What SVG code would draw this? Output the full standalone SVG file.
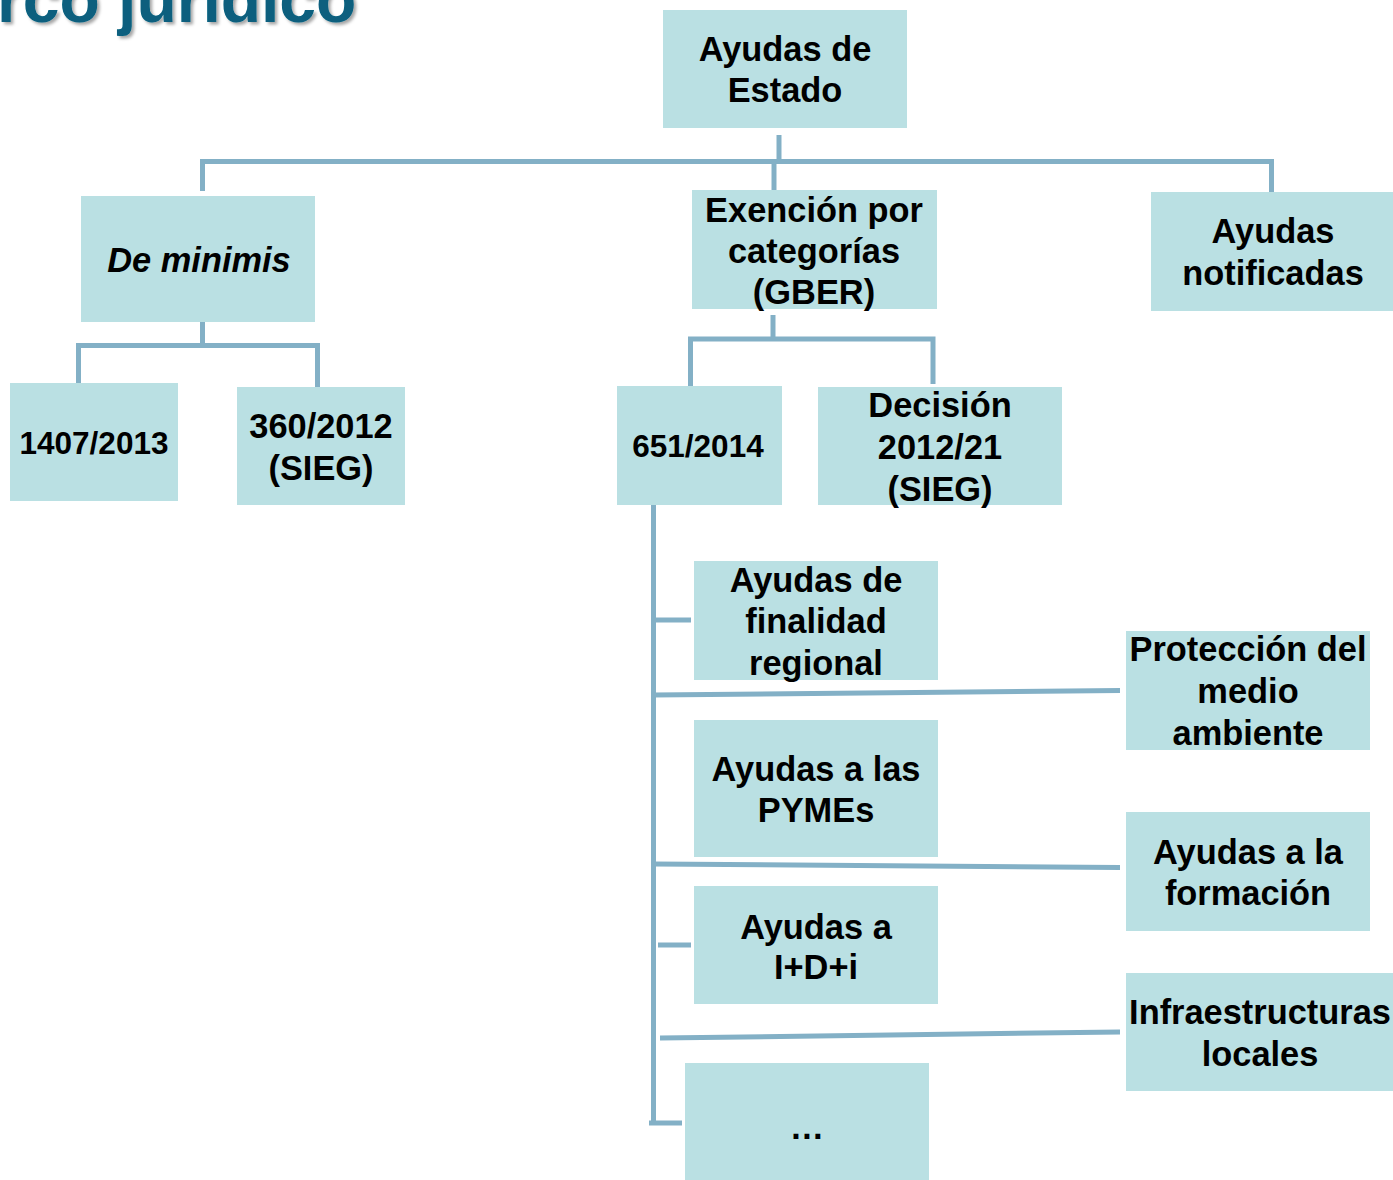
<svg xmlns="http://www.w3.org/2000/svg" width="1393" height="1180" viewBox="0 0 1393 1180">
<defs>
<style>
.box{fill:#BAE0E3}
.t{font-family:"Liberation Sans",Arial,sans-serif;font-weight:bold;font-size:34.4px;fill:#000;text-anchor:middle}
.s{font-size:31.5px}
.c{stroke:#83B0C6;stroke-width:5;fill:none;stroke-linecap:butt;stroke-linejoin:miter}
.title{font-family:"Liberation Sans",Arial,sans-serif;font-weight:bold;font-size:66px;fill:#075F7E}
</style>
<filter id="sh" x="-5%" y="-50%" width="110%" height="200%">
<feDropShadow dx="2.5" dy="2.5" stdDeviation="1.5" flood-color="#000" flood-opacity="0.35"/>
</filter>
</defs>
<rect width="1393" height="1180" fill="#fff"/>
<text class="title" x="-3" y="22" filter="url(#sh)">rco jurídico</text>

<g id="connectors">
<path class="c" d="M779,135 V161.5"/>
<path class="c" d="M202.5,191 V161.5 H1271.5 V192"/>
<path class="c" d="M774,161.5 V193"/>
<path class="c" d="M202.5,322 V345.5"/>
<path class="c" d="M78.5,383 V345.5 H317.5 V387"/>
<path class="c" d="M773,315 V339"/>
<path class="c" d="M690.5,388 V339 H933 V384"/>
<path class="c" d="M653.5,505 V1121"/>
<path class="c" d="M653.5,620 H691"/>
<path class="c" d="M653.5,695 L1120,690.5"/>
<path class="c" d="M653.5,864 L1120,867.5"/>
<path class="c" d="M658,945 H691"/>
<path class="c" d="M660,1038 L1120,1032"/>
<path class="c" d="M649,1123 H682"/>
</g>

<g id="n-estado"><rect class="box" x="663" y="10" width="244" height="118"/>
<text class="t" x="785" y="61">Ayudas de</text><text class="t" x="785" y="102">Estado</text></g>

<g id="n-minimis"><rect class="box" x="81" y="196" width="234" height="126"/>
<text class="t" x="199" y="272" font-style="italic">De minimis</text></g>

<g id="n-gber"><rect class="box" x="692" y="190" width="245" height="119"/>
<text class="t" x="814" y="222">Exención por</text><text class="t" x="814" y="263">categorías</text><text class="t" x="814" y="304">(GBER)</text></g>

<g id="n-notificadas"><rect class="box" x="1151" y="192" width="242" height="119"/>
<text class="t" x="1273" y="243">Ayudas</text><text class="t" x="1273" y="285">notificadas</text></g>

<g id="n-1407"><rect class="box" x="10" y="383" width="168" height="118"/>
<text class="t s" x="94" y="454">1407/2013</text></g>

<g id="n-360"><rect class="box" x="237" y="387" width="168" height="118"/>
<text class="t" x="321" y="438">360/2012</text><text class="t" x="321" y="480">(SIEG)</text></g>

<g id="n-651"><rect class="box" x="617" y="386" width="165" height="119"/>
<text class="t s" x="698" y="457">651/2014</text></g>

<g id="n-decision"><rect class="box" x="818" y="387" width="244" height="118"/>
<text class="t" x="940" y="417">Decisión</text><text class="t" x="940" y="459">2012/21</text><text class="t" x="940" y="501">(SIEG)</text></g>

<g id="n-regional"><rect class="box" x="694" y="561" width="244" height="119"/>
<text class="t" x="816" y="592">Ayudas de</text><text class="t" x="816" y="633">finalidad</text><text class="t" x="816" y="675">regional</text></g>

<g id="n-medio"><rect class="box" x="1126" y="631" width="244" height="119"/>
<text class="t" x="1248" y="661">Protección del</text><text class="t" x="1248" y="703">medio</text><text class="t" x="1248" y="745">ambiente</text></g>

<g id="n-pymes"><rect class="box" x="694" y="720" width="244" height="137"/>
<text class="t" x="816" y="781">Ayudas a las</text><text class="t" x="816" y="822">PYMEs</text></g>

<g id="n-formacion"><rect class="box" x="1126" y="812" width="244" height="119"/>
<text class="t" x="1248" y="864">Ayudas a la</text><text class="t" x="1248" y="905">formación</text></g>

<g id="n-idi"><rect class="box" x="694" y="886" width="244" height="118"/>
<text class="t" x="816" y="939">Ayudas a</text><text class="t" x="816" y="979">I+D+i</text></g>

<g id="n-infra"><rect class="box" x="1126" y="973" width="267" height="118"/>
<text class="t" x="1260" y="1024">Infraestructuras</text><text class="t" x="1260" y="1066">locales</text></g>

<g id="n-etc"><rect class="box" x="685" y="1063" width="244" height="117"/>
<text class="t" x="807" y="1139">…</text></g>
</svg>
